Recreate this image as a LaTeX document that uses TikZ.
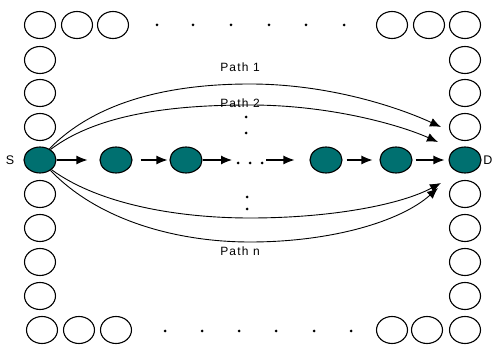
\documentclass[tikz,border=0pt]{standalone}
\usepackage{fontspec}
\setmainfont{Liberation Sans}
\newfontfamily\spacedfont[LetterSpace=10]{Liberation Sans}
\usetikzlibrary{shapes.geometric,arrows.meta}
\definecolor{teal1}{RGB}{0,112,112}
\tikzset{
  ring/.style={ellipse,draw=black,line width=1.1pt,minimum width=31pt,minimum height=27pt,inner sep=0pt},
  hop/.style={ellipse,draw=black,fill=teal1,line width=1.1pt,minimum width=32pt,minimum height=26pt,inner sep=0pt},
  dotm/.style={circle,fill=black,minimum size=3pt,inner sep=0pt},
  arr/.style={-{Latex[length=11pt,width=9pt]},line width=1.1pt},
  pth/.style={-{Latex[length=11pt,width=9pt]},line width=0.9pt},
  lbl/.style={font=\spacedfont\fontsize{12}{13}\selectfont,inner sep=0pt},
  sdl/.style={font=\fontsize{12.5}{13}\selectfont,inner sep=0pt}
}
\begin{document}
\begin{tikzpicture}[x=1pt,y=-1pt]
\useasboundingbox (0,0) rectangle (498,347);
% top row
\foreach \x/\n in {40/t1,77/t2,113/t3,392/t4,429/t5,465/t6} \node[ring] (\n) at (\x,25) {};
% bottom row
\foreach \x/\n in {42/b1,79/b2,116/b3,392/b4,427/b5,465/b6} \node[ring] (\n) at (\x,330) {};
% left column
\foreach \y/\n in {60/l1,93/l2,127/l3,194/l4,228/l5,262/l6,296/l7} \node[ring] (\n) at (40,\y) {};
% right column
\foreach \y/\n in {60/r1,93/r2,127/r3,194/r4,228/r5,262/r6,296/r7} \node[ring] (\n) at (465,\y) {};
% dots
\foreach \x [count=\i] in {157,193,231,269,306,344} \node[dotm] (td\i) at (\x,25) {};
\foreach \x [count=\i] in {165,202,239,276,314,351} \node[dotm] (bd\i) at (\x,331) {};
\foreach \x [count=\i] in {238,250,262} \node[dotm] (md\i) at (\x,163) {};
\node[dotm] (vd1) at (246,117) {};
\node[dotm] (vd2) at (246,133) {};
\node[dotm] (vd3) at (247,197) {};
\node[dotm] (vd4) at (247,209) {};
% hops
\node[hop] (S) at (40,160) {};
\node[hop] (n2) at (116,160) {};
\node[hop] (n3) at (186,160) {};
\node[hop] (n4) at (326,160) {};
\node[hop] (n5) at (396,160) {};
\node[hop] (D) at (465,160) {};
\node[sdl] (Sl) at (10,160) {S};
\node[sdl] (Dl) at (488,160) {D};
\coordinate (dl) at (232,160);
\coordinate (dr) at (266,160);
\draw[arr,shorten >=12pt] (S) -- (n2);
\draw[arr,shorten <=8pt,shorten >=2pt] (n2) -- (n3);
\draw[arr] (n3) -- (dl);
\draw[arr,shorten >=15pt] (dr) -- (n4);
\draw[arr,shorten <=4pt,shorten >=7pt] (n4) -- (n5);
\draw[arr,shorten <=3pt,shorten >=4pt] (n5) -- (D);
% paths
\coordinate (e1) at (441,127);
\coordinate (e2) at (438,142);
\coordinate (e3) at (441,183);
\coordinate (e4) at (438,188);
\draw[pth] (S.50) .. controls (100,97) and (180,84) .. (250,84) .. controls (330,84) and (400,108) .. (e1);
\draw[pth] (S.45) .. controls (100,112) and (180,105) .. (250,105) .. controls (330,105) and (400,125) .. (e2);
\draw[pth] (S.-40) .. controls (100,205) and (180,218) .. (250,218) .. controls (330,218) and (400,205) .. (e3);
\draw[pth] (S.-45) .. controls (100,222) and (180,242) .. (250,242) .. controls (330,242) and (400,222) .. (e4);
\node[lbl] (p1) at (240,67) {Path 1};
\node[lbl] (p2) at (240,103) {Path 2};
\node[lbl] (pn) at (240,251) {Path n};
\end{tikzpicture}
\end{document}
